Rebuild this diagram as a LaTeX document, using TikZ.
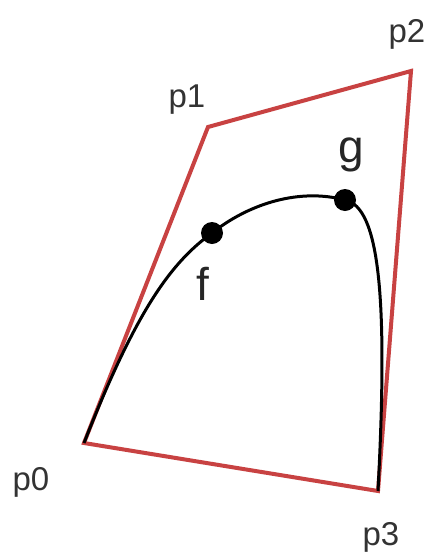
\documentclass[tikz,border=0pt]{standalone}
\usepackage{fontspec}
\setmainfont{Liberation Sans}
\usepackage{tikz}
\definecolor{polyred}{RGB}{200,66,66}

\begin{document}
\begin{tikzpicture}[
            x=1pt, y=-1pt,
            ctrlpoly/.style={draw=polyred, line width=4pt, line join=miter},
            bezline/.style={draw=black, line width=3pt},
            dotmark/.style={circle, fill=black, inner sep=0pt, minimum size=22pt},
            plabel/.style={anchor=base, inner sep=0pt, text=black!80, font=\fontsize{33}{38}\selectfont},
            flabel/.style={anchor=base, inner sep=0pt, text=black!85, font=\fontsize{46}{52}\selectfont}
        ]
            \useasboundingbox (0,0) rectangle (428,555);

            \coordinate (p0) at (84,443);
            \coordinate (p1) at (208,127);
            \coordinate (p2) at (411,71);
            \coordinate (p3) at (378,491);

            \node[plabel] (lp0) at (31,490) {p0};
            \node[plabel] (lp1) at (187,107) {p1};
            \node[plabel] (lp2) at (407,42) {p2};
            \node[plabel] (lp3) at (381,545) {p3};

            \draw[ctrlpoly] (p0) -- (p1) -- (p2) -- (p3) -- cycle;

            \node[dotmark] (f) at (212,233) {};
            \node[dotmark] (g) at (345,200) {};
            \draw[bezline] (p0) .. controls (137,308) and (172,262) .. (f.center)
                .. controls (250,203) and (300,188) .. (g.center)
                .. controls (380,207) and (388,300) .. (p3);

            \node[flabel] (lf) at (203,300) {f};
            \node[flabel] (lg) at (351,162) {g};
        \end{tikzpicture}
\end{document}
